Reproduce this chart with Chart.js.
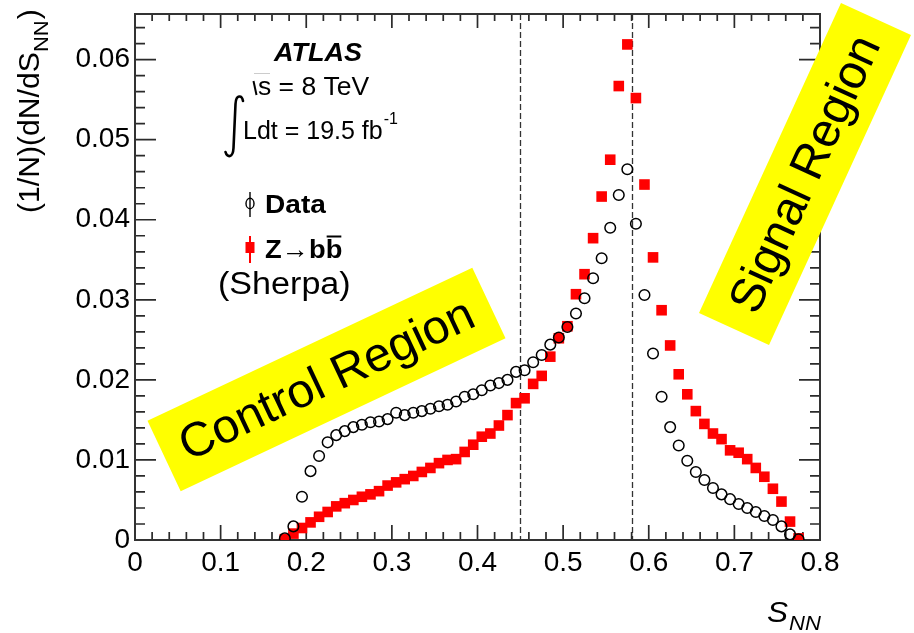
<!DOCTYPE html>
<html>
<head>
<meta charset="utf-8">
<script src="https://cdn.jsdelivr.net/npm/chart.js@4/dist/chart.umd.min.js"></script>
<style>
  html, body { margin: 0; padding: 0; background: #fff; }
  #c { display: block; }
</style>
</head>
<body>
<canvas id="c" width="914" height="633"></canvas>
<script>
// Bin centres of S_NN (bin width 0.01)
const sNN = [
  0.175, 0.185, 0.195, 0.205, 0.215, 0.225, 0.235, 0.245, 0.255, 0.265,
  0.275, 0.285, 0.295, 0.305, 0.315, 0.325, 0.335, 0.345, 0.355, 0.365,
  0.375, 0.385, 0.395, 0.405, 0.415, 0.425, 0.435, 0.445, 0.455, 0.465,
  0.475, 0.485, 0.495, 0.505, 0.515, 0.525, 0.535, 0.545, 0.555, 0.565,
  0.575, 0.585, 0.595, 0.605, 0.615, 0.625, 0.635, 0.645, 0.655, 0.665,
  0.675, 0.685, 0.695, 0.705, 0.715, 0.725, 0.735, 0.745, 0.755, 0.765,
  0.775
];

// Normalised distribution, data
const dataVals = [
  0.0002, 0.0017, 0.0054, 0.0086, 0.0105, 0.0122, 0.0131, 0.0136, 0.0141, 0.0144,
  0.0147, 0.0148, 0.0151, 0.0159, 0.0156, 0.0159, 0.0161, 0.0164, 0.0167, 0.0169,
  0.0173, 0.0179, 0.0182, 0.0187, 0.0193, 0.0196, 0.0200, 0.0210, 0.0212, 0.0222,
  0.0231, 0.0244, 0.0253, 0.0266, 0.0283, 0.0302, 0.0327, 0.0352, 0.0390, 0.0431,
  0.0463, 0.0395, 0.0306, 0.0233, 0.0179, 0.0141, 0.0118, 0.0099, 0.0085, 0.0075,
  0.0065, 0.0057, 0.0051, 0.0045, 0.0040, 0.0035, 0.0030, 0.0025, 0.0017, 0.0007,
  0.0001
];

// Normalised distribution, Z->bb (Sherpa)
const zbbVals = [
  0.0001, 0.0008, 0.0015, 0.0022, 0.0029, 0.0035, 0.0042, 0.0046, 0.0050, 0.0054,
  0.0057, 0.0061, 0.0068, 0.0072, 0.0076, 0.0080, 0.0085, 0.0090, 0.0096, 0.0100,
  0.0101, 0.0110, 0.0119, 0.0129, 0.0133, 0.0143, 0.0156, 0.0171, 0.0177, 0.0195,
  0.0205, 0.0229, 0.0252, 0.0267, 0.0307, 0.0332, 0.0377, 0.0429, 0.0475, 0.0567,
  0.0619, 0.0552, 0.0444, 0.0353, 0.0287, 0.0243, 0.0207, 0.0182, 0.0161, 0.0145,
  0.0133, 0.0126, 0.0112, 0.0109, 0.0101, 0.0090, 0.0079, 0.0064, 0.0048, 0.0023,
  0.0002
];

// Region boundaries in S_NN
const regionCuts = [0.45, 0.58];

const X_MIN = 0, X_MAX = 0.8;
const Y_MIN = 0, Y_MAX = 0.0657;

const FONT = "'Liberation Sans', Arial, Helvetica, sans-serif";

function drawText(ctx, str, x, y, font, opts = {}) {
  ctx.save();
  ctx.translate(x, y);
  if (opts.rot) ctx.rotate(opts.rot);
  ctx.scale(opts.sx || 1, 1);
  ctx.font = font;
  ctx.fillStyle = opts.color || '#000';
  ctx.textAlign = opts.align || 'left';
  ctx.textBaseline = opts.baseline || 'alphabetic';
  ctx.fillText(str, 0, 0);
  const w = ctx.measureText(str).width * (opts.sx || 1);
  ctx.restore();
  return w;
}

// Frame with inward ticks on all four sides, plus the region cut lines
const framePlugin = {
  id: 'frame',
  beforeDatasetsDraw(chart) {
    const { ctx, chartArea: a, scales } = chart;
    const xs = scales.x, ys = scales.y;
    ctx.save();
    // dashed region boundaries
    ctx.strokeStyle = '#333';
    ctx.lineWidth = 1.3;
    ctx.setLineDash([6, 3]);
    regionCuts.forEach(v => {
      const px = Math.round(xs.getPixelForValue(v)) + 0.5;
      ctx.beginPath();
      ctx.moveTo(px, a.top);
      ctx.lineTo(px, a.bottom);
      ctx.stroke();
    });
    ctx.setLineDash([]);

    // ticks
    ctx.strokeStyle = '#2a2a2a';
    ctx.lineWidth = 1.7;
    for (let i = 0; i <= 40; i++) {
      const v = i * 0.02;
      const px = xs.getPixelForValue(v);
      const len = i % 5 === 0 ? 15 : 8;
      ctx.beginPath();
      ctx.moveTo(px, a.bottom); ctx.lineTo(px, a.bottom - len);
      ctx.moveTo(px, a.top); ctx.lineTo(px, a.top + (i % 5 === 0 ? 14 : 7));
      ctx.stroke();
    }
    for (let i = 0; i * 0.002 <= Y_MAX + 1e-9; i++) {
      const v = i * 0.002;
      const py = ys.getPixelForValue(v);
      const len = i % 5 === 0 ? 21 : 10;
      ctx.beginPath();
      ctx.moveTo(a.left, py); ctx.lineTo(a.left + len, py);
      ctx.moveTo(a.right, py); ctx.lineTo(a.right - len, py);
      ctx.stroke();
    }
    // box
    ctx.strokeStyle = '#333';
    ctx.lineWidth = 2;
    ctx.strokeRect(a.left, a.top, a.right - a.left, a.bottom - a.top);
    ctx.restore();
  }
};

function yellowBox(ctx, cx, cy, len, thick, angDeg, label) {
  const ang = angDeg * Math.PI / 180;
  ctx.save();
  ctx.translate(cx, cy);
  ctx.rotate(ang);
  ctx.fillStyle = '#ffff00';
  ctx.fillRect(-len / 2, -thick / 2, len, thick);
  ctx.font = '48px ' + FONT;
  ctx.fillStyle = '#000';
  ctx.textAlign = 'center';
  ctx.textBaseline = 'middle';
  ctx.fillText(label, 0, 2);
  ctx.restore();
}

// Axis titles, ATLAS labels, legend and region boxes
const annotationPlugin = {
  id: 'annotations',
  afterDraw(chart) {
    const ctx = chart.ctx;
    ctx.save();

    // y-axis title: (1/N)(dN/dS_NN), rotated
    ctx.save();
    ctx.translate(39, 213);
    ctx.rotate(-Math.PI / 2);
    let w = drawText(ctx, '(1/N)(dN/dS', 0, 0, '29px ' + FONT, { sx: 1.04 });
    let w2 = drawText(ctx, 'NN', w, 9, '21px ' + FONT, { sx: 1.05 });
    drawText(ctx, ')', w + w2 + 1, 0, '29px ' + FONT, { sx: 1.04 });
    ctx.restore();

    // x-axis title: S_NN
    let sw = drawText(ctx, 'S', 767, 622, 'italic 30px ' + FONT, { sx: 1.05 });
    drawText(ctx, 'NN', 767 + sw + 1, 630, 'italic 21px ' + FONT, { sx: 1.05 });

    // ATLAS
    drawText(ctx, 'ATLAS', 274, 61, 'bold italic 25px ' + FONT, { sx: 1.08 });

    // sqrt(s) = 8 TeV
    ctx.strokeStyle = '#ccc';
    ctx.lineWidth = 1;
    ctx.beginPath(); ctx.moveTo(254, 73.5); ctx.lineTo(270, 73.5); ctx.stroke();
    ctx.strokeStyle = '#000';
    ctx.lineWidth = 2;
    ctx.beginPath(); ctx.moveTo(253.5, 81); ctx.lineTo(256.5, 95); ctx.stroke();
    drawText(ctx, 's = 8 TeV', 258, 95, '25px ' + FONT, { sx: 1.06 });

    // integral L dt = 19.5 fb^-1
    ctx.lineWidth = 2.6;
    ctx.lineCap = 'round';
    ctx.beginPath();
    ctx.moveTo(243, 101);
    ctx.bezierCurveTo(242, 95, 236, 94, 235.5, 104);
    ctx.lineTo(233.5, 148);
    ctx.bezierCurveTo(233, 158, 227, 158, 225.5, 152);
    ctx.stroke();
    let lw = drawText(ctx, 'Ldt = 19.5 fb', 243, 139, '25px ' + FONT, { sx: 1.0 });
    drawText(ctx, '-1', 243 + lw + 1, 124, '16px ' + FONT);

    // legend: Data
    ctx.lineCap = 'butt';
    ctx.strokeStyle = '#000';
    ctx.lineWidth = 1.4;
    ctx.beginPath(); ctx.moveTo(250, 192); ctx.lineTo(250, 217); ctx.stroke();
    ctx.beginPath(); ctx.ellipse(250, 203.5, 4, 5.2, 0, 0, Math.PI * 2); ctx.stroke();
    drawText(ctx, 'Data', 265, 213, 'bold 26px ' + FONT, { sx: 1.08 });

    // legend: Z -> bb (Sherpa)
    ctx.strokeStyle = '#ff0000';
    ctx.lineWidth = 2;
    ctx.beginPath(); ctx.moveTo(250, 236); ctx.lineTo(250, 263); ctx.stroke();
    ctx.fillStyle = '#ff0000';
    ctx.fillRect(245.5, 242, 9, 11);
    let zw = drawText(ctx, 'Z', 265, 258, 'bold 26px ' + FONT, { sx: 1.05 });
    let aw = drawText(ctx, '\u2192', 265 + zw, 258, '26px ' + FONT, { sx: 1.05 });
    let bw = drawText(ctx, 'b', 265 + zw + aw, 258, 'bold 26px ' + FONT, { sx: 1.05 });
    let b2x = 265 + zw + aw + bw;
    let b2w = drawText(ctx, 'b', b2x, 258, 'bold 26px ' + FONT, { sx: 1.05 });
    ctx.strokeStyle = '#000';
    ctx.lineWidth = 2;
    ctx.beginPath(); ctx.moveTo(b2x + 1, 236.5); ctx.lineTo(b2x + b2w - 1, 236.5); ctx.stroke();
    drawText(ctx, '(Sherpa)', 218, 294, '31px ' + FONT, { sx: 1.1 });

    // region boxes
    yellowBox(ctx, 326.5, 379.5, 359, 78, -25.2, 'Control Region');
    yellowBox(ctx, 805, 174, 341, 77, -65.4, 'Signal Region');

    ctx.restore();
  }
};

const fmtY = v => (Math.abs(v) < 1e-9 ? '0' : v.toFixed(2));
const fmtX = v => (Math.abs(v) < 1e-9 ? '0' : v.toFixed(1));

new Chart(document.getElementById('c').getContext('2d'), {
  type: 'scatter',
  data: {
    datasets: [
      {
        label: 'Data',
        data: sNN.map((x, i) => ({ x, y: dataVals[i] })),
        pointStyle: 'circle',
        pointRadius: 5.3,
        pointBorderWidth: 1.5,
        borderColor: '#000',
        backgroundColor: 'rgba(0,0,0,0)'
      },
      {
        label: 'Z\u2192bb\u0304 (Sherpa)',
        data: sNN.map((x, i) => ({ x, y: zbbVals[i] })),
        pointStyle: 'rect',
        pointRadius: 7.5,
        pointBorderWidth: 0,
        borderColor: '#ff0000',
        backgroundColor: '#ff0000'
      }
    ]
  },
  options: {
    responsive: false,
    animation: false,
    devicePixelRatio: 1,
    layout: { padding: { left: 0, right: 94, top: 14, bottom: 0 } },
    plugins: {
      legend: { display: false },
      tooltip: { enabled: false }
    },
    scales: {
      x: {
        type: 'linear',
        min: X_MIN, max: X_MAX,
        border: { display: false },
        grid: { display: false, drawTicks: false },
        ticks: {
          stepSize: 0.1,
          includeBounds: false,
          autoSkip: false,
          maxRotation: 0,
          padding: 6,
          color: '#000',
          font: { family: FONT, size: 28 },
          callback: v => fmtX(v)
        },
        afterFit(s) { s.height = 93; s.paddingLeft = 0; s.paddingRight = 0; }
      },
      y: {
        type: 'linear',
        min: Y_MIN, max: Y_MAX,
        border: { display: false },
        grid: { display: false, drawTicks: false },
        ticks: {
          stepSize: 0.01,
          includeBounds: false,
          autoSkip: false,
          padding: 5,
          color: '#000',
          font: { family: FONT, size: 28 },
          callback: v => fmtY(v)
        },
        afterFit(s) { s.width = 135; s.paddingTop = 0; s.paddingBottom = 0; }
      }
    }
  },
  plugins: [framePlugin, annotationPlugin]
});
</script>
</body>
</html>
